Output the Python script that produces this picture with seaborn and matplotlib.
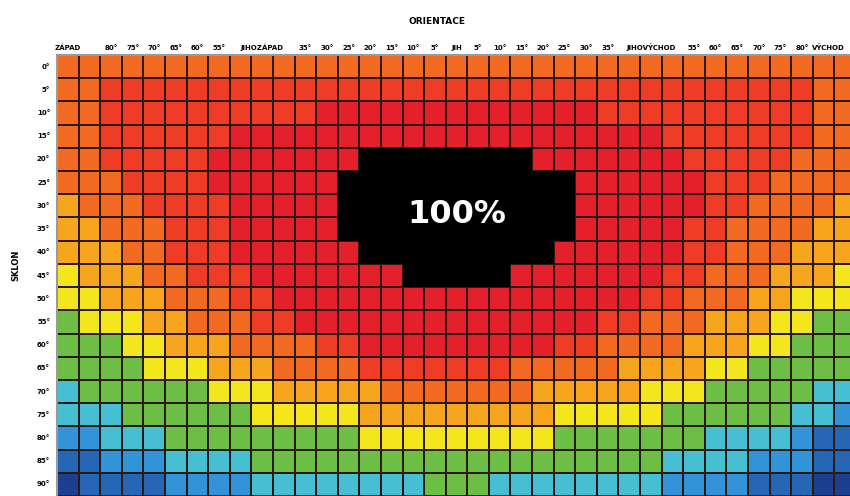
import numpy as np
import pandas as pd
import seaborn as sns
import matplotlib.pyplot as plt
from matplotlib.colors import ListedColormap

# Účinnost FV panelu podle orientace (sloupce) a sklonu (řádky)
# pásma: 0 tmavě modrá ... 9 červená, 10 = 100 %
tilt_labels = ["0°", "5°", "10°", "15°", "20°", "25°", "30°", "35°", "40°", "45°",
               "50°", "55°", "60°", "65°", "70°", "75°", "80°", "85°", "90°"]

orientation_labels = ["ZÁPAD", "", "80°", "75°", "70°", "65°", "60°", "55°", "",
                      "JIHOZÁPAD", "", "35°", "30°", "25°", "20°", "15°", "10°", "5°",
                      "JIH", "5°", "10°", "15°", "20°", "25°", "30°", "35°", "",
                      "JIHOVÝCHOD", "", "55°", "60°", "65°", "70°", "75°", "80°", "",
                      "VÝCHOD"]

band_colors = ["#1d3f8f", "#2566b5", "#3393d9", "#47bfd3", "#6cbe45", "#f4e61c",
               "#f8a51e", "#f26a21", "#ee3d24", "#e4202a", "#000000"]

# každý řádek: (pásmo, počet buněk) zleva doprava
row_runs = [
    [(7, 37)],
    [(7, 2), (8, 33), (7, 2)],
    [(7, 2), (8, 10), (9, 13), (8, 10), (7, 2)],
    [(7, 2), (8, 6), (9, 20), (8, 7), (7, 2)],
    [(7, 2), (8, 5), (9, 7), (10, 8), (9, 7), (8, 5), (7, 3)],
    [(7, 3), (8, 4), (9, 6), (10, 11), (9, 6), (8, 3), (7, 4)],
    [(6, 1), (7, 3), (8, 4), (9, 5), (10, 11), (9, 6), (8, 2), (7, 4), (6, 1)],
    [(6, 2), (7, 3), (8, 3), (9, 5), (10, 11), (9, 5), (8, 2), (7, 4), (6, 2)],
    [(6, 3), (7, 2), (8, 3), (9, 6), (10, 9), (9, 6), (8, 2), (7, 3), (6, 3)],
    [(5, 1), (6, 3), (7, 2), (8, 3), (9, 7), (10, 5), (9, 7), (8, 2), (7, 3), (6, 3), (5, 1)],
    [(5, 2), (6, 3), (7, 3), (8, 2), (9, 17), (8, 2), (7, 3), (6, 2), (5, 3)],
    [(4, 1), (5, 3), (6, 2), (7, 3), (8, 2), (9, 14), (8, 2), (7, 3), (6, 3), (5, 2), (4, 2)],
    [(4, 3), (5, 2), (6, 3), (7, 4), (8, 2), (9, 9), (8, 2), (7, 4), (6, 3), (5, 2), (4, 3)],
    [(4, 4), (5, 3), (6, 3), (7, 4), (8, 7), (7, 5), (6, 4), (5, 2), (4, 5)],
    [(3, 1), (4, 6), (5, 3), (6, 5), (7, 7), (6, 5), (5, 3), (4, 5), (3, 2)],
    [(3, 3), (4, 6), (5, 5), (6, 9), (5, 5), (4, 6), (3, 2), (2, 1)],
    [(2, 2), (3, 3), (4, 9), (5, 9), (4, 7), (3, 4), (2, 1), (1, 2)],
    [(1, 2), (2, 3), (3, 4), (4, 19), (3, 4), (2, 3), (1, 2)],
    [(0, 1), (1, 4), (2, 4), (3, 8), (4, 3), (3, 8), (2, 4), (1, 3), (0, 2)],
]

grid = []
for runs in row_runs:
    row = []
    for band, n in runs:
        row += [band] * n
    assert len(row) == 37, len(row)
    grid.append(row)

df = pd.DataFrame(grid, index=tilt_labels, columns=range(37))
cmap = ListedColormap(band_colors)

fig = plt.figure(figsize=(8.5, 4.96), dpi=100)
ax = fig.add_axes([57 / 850, 0, 799 / 850, 441 / 496])
sns.heatmap(df, cmap=cmap, vmin=-0.5, vmax=10.5, cbar=False,
            linewidths=1.1, linecolor="#2b1a14", ax=ax,
            xticklabels=orientation_labels, yticklabels=tilt_labels)
# oblast 100 % jako plná černá plocha bez mřížky
sns.heatmap(df, mask=(df != 10), cmap=cmap, vmin=-0.5, vmax=10.5, cbar=False,
            linewidths=0, ax=ax, xticklabels=orientation_labels, yticklabels=tilt_labels)

ax.xaxis.tick_top()
ax.tick_params(axis="x", length=0, pad=3, labelsize=5, rotation=0)
ax.tick_params(axis="y", length=0, pad=5, labelsize=5, rotation=0)
for lab in ax.get_xticklabels() + ax.get_yticklabels():
    lab.set_fontweight("bold")
ax.get_xticklabels()[-1].set_horizontalalignment("right")
ax.set_xlabel("")
ax.set_ylabel("")

for side in ["top", "left"]:
    ax.spines[side].set_visible(True)
    ax.spines[side].set_color("#9a9a9a")
    ax.spines[side].set_linewidth(1.5)

ax.text(18.5, 7.24, "100%", color="white", fontsize=23, fontweight="bold",
        ha="center", va="baseline")

fig.text(437 / 850, 1 - 22 / 496, "ORIENTACE", ha="center", va="center",
         fontsize=6.5, fontweight="bold")
fig.text(16 / 850, 1 - 265 / 496, "SKLON", rotation=90, ha="center", va="center",
         fontsize=6, fontweight="bold")

fig.savefig("out.png", dpi=100)
